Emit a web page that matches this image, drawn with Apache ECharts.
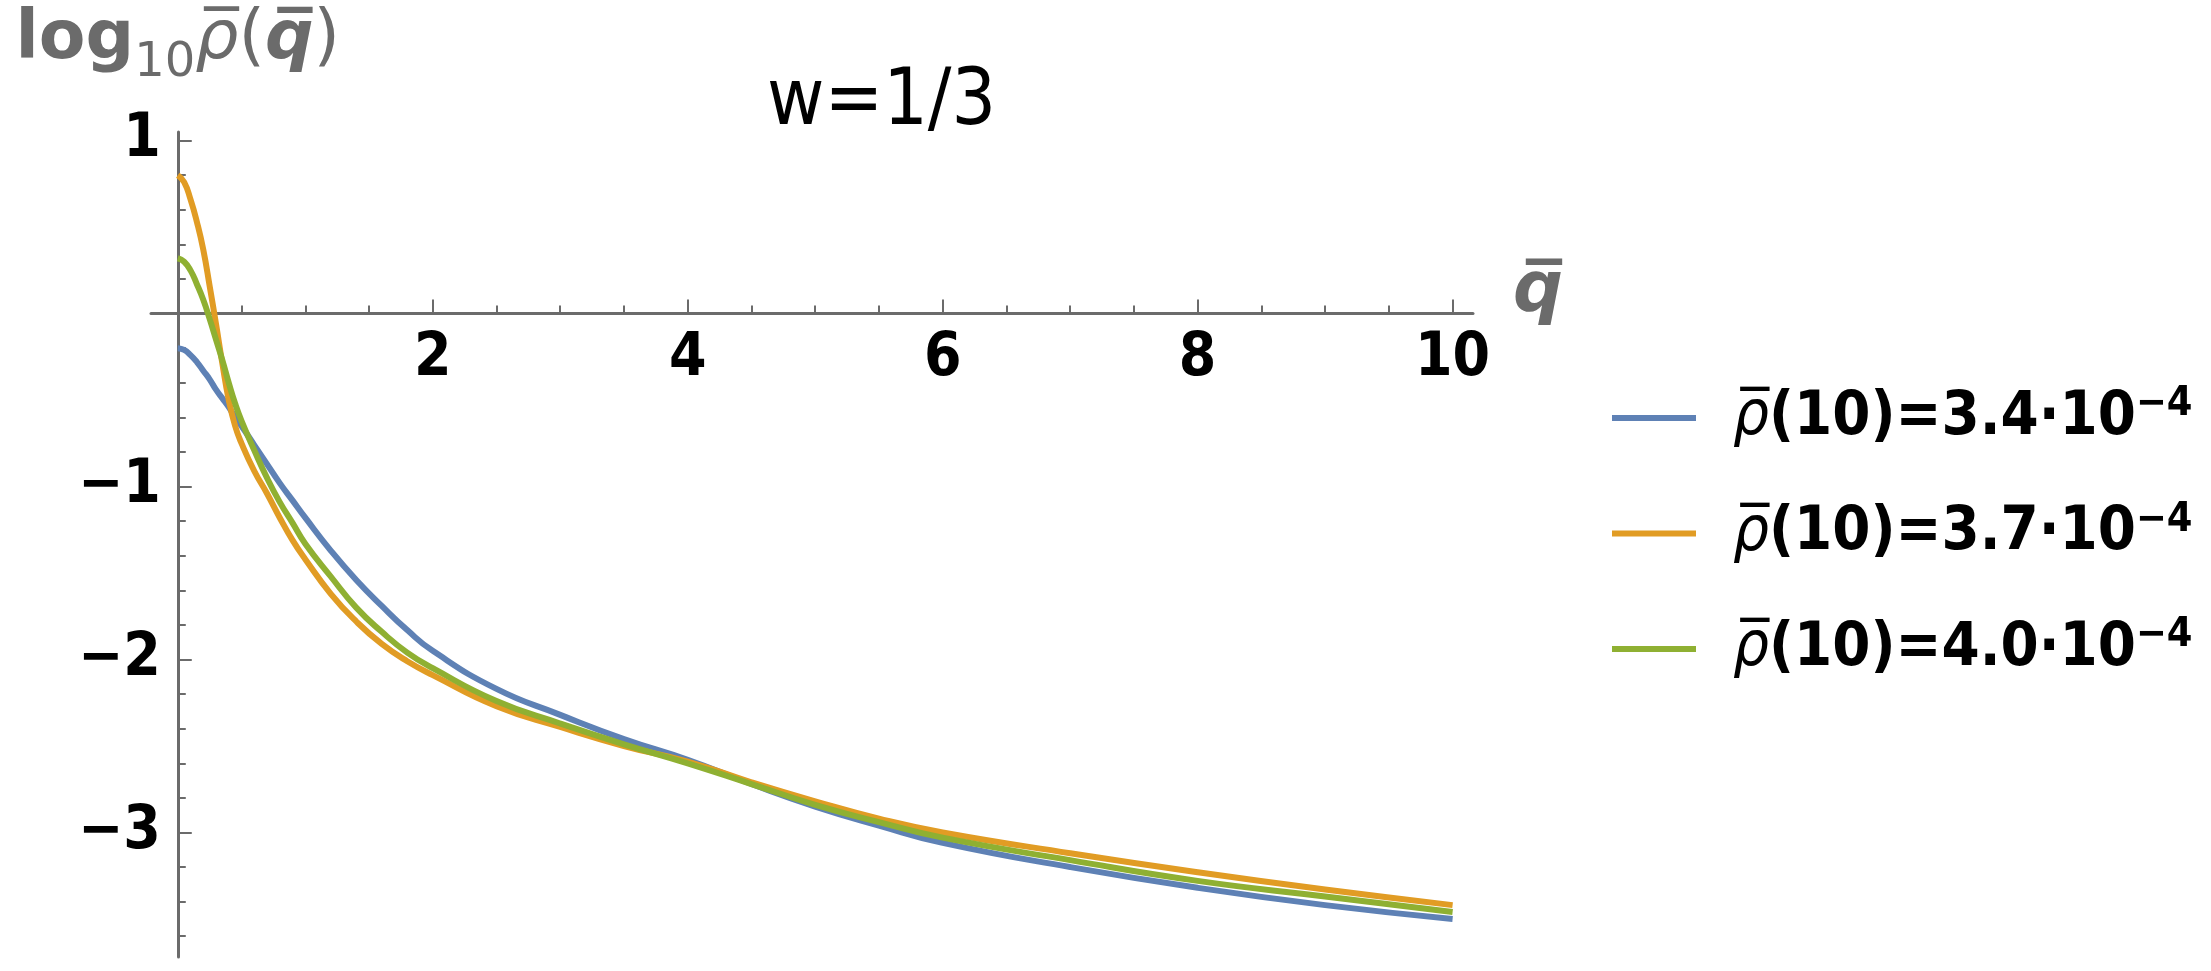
<!DOCTYPE html>
<html>
<head>
<meta charset="utf-8">
<title>w=1/3</title>
<script src="https://cdn.jsdelivr.net/npm/echarts@6/dist/echarts.min.js"></script>
<style>
  html, body { margin: 0; padding: 0; background: #fff; }
  #chart { width: 2211px; height: 971px; }
</style>
</head>
<body>
<div id="chart"></div>
<script>
const qValues = [0, 0.05, 0.1, 0.15, 0.2, 0.25, 0.3, 0.35, 0.4, 0.45, 0.5, 0.6, 0.7, 0.8, 0.9, 1.0,
  1.2, 1.4, 1.6, 1.8, 2.0, 2.5, 3.0, 3.5, 4.0, 4.5, 5.0, 5.5, 6.0, 7.0, 8.0, 9.0, 10.0];

// log10 rho(q) for rho(10) = 3.4e-4
const logRho34 = [-0.20, -0.21, -0.24, -0.28, -0.33, -0.38, -0.44, -0.49, -0.54, -0.60, -0.65, -0.76, -0.87, -0.98, -1.08, -1.18,
  -1.37, -1.54, -1.69, -1.83, -1.95, -2.17, -2.32, -2.46, -2.58, -2.72, -2.85, -2.96, -3.06, -3.20, -3.32, -3.42, -3.50];
// rho(10) = 3.7e-4
const logRho37 = [0.80, 0.76, 0.66, 0.53, 0.37, 0.16, -0.06, -0.29, -0.50, -0.65, -0.75, -0.91, -1.04, -1.18, -1.31, -1.42,
  -1.62, -1.78, -1.91, -2.01, -2.09, -2.27, -2.39, -2.50, -2.59, -2.71, -2.82, -2.92, -3.00, -3.12, -3.23, -3.33, -3.42];
// rho(10) = 4.0e-4
const logRho40 = [0.32, 0.30, 0.25, 0.17, 0.08, -0.03, -0.15, -0.27, -0.40, -0.52, -0.62, -0.79, -0.95, -1.09, -1.21, -1.33,
  -1.52, -1.70, -1.84, -1.96, -2.05, -2.24, -2.37, -2.49, -2.60, -2.72, -2.84, -2.94, -3.03, -3.16, -3.28, -3.37, -3.46];

const rho10Labels = ["3.4", "3.7", "4.0"];
const seriesColors = ["#5e81b5", "#e19c24", "#8fb032"];

// ticks
const xLabelValues = [2, 4, 6, 8, 10];
const xMajorTicks = [0, 2, 4, 6, 8, 10];
const xMinorTicks = [0.5, 1, 1.5, 2.5, 3, 3.5, 4.5, 5, 5.5, 6.5, 7, 7.5, 8.5, 9, 9.5];
const yLabelValues = [1, -1, -2, -3];
const yMajorTicks = [1, -1, -2, -3];
const yMinorTicks = [0.8, 0.6, 0.4, 0.2, -0.2, -0.4, -0.6, -0.8, -1.2, -1.4, -1.6, -1.8,
  -2.2, -2.4, -2.6, -2.8, -3.2, -3.4, -3.6];

const X_MIN = -0.21, X_MAX = 10.16;
const Y_MIN = -3.72, Y_MAX = 1.05;

// grid box
const GRID_LEFT = 151, GRID_TOP = 132, GRID_W = 1322, GRID_H = 825;
// axes cross at the origin: shift them inwards from the grid edges
// (onZero keeps the labels at the grid edge in this version)
const xAxisShift = -GRID_H * (0 - Y_MIN) / (Y_MAX - Y_MIN);
const yAxisShift = -GRID_W * (0 - X_MIN) / (X_MAX - X_MIN);

const axisGray = "#6b6b6b";
const font = "DejaVu Sans Condensed, DejaVu Sans";
const nameFont = "DejaVu Sans";

const toPairs = (ys) => qValues.map((q, i) => [q, ys[i]]);
const seriesNames = rho10Labels.map((v) => "\u03C1\u0305(10)=" + v + "\u00B710\u207B\u2074");
const seriesData = [logRho34, logRho37, logRho40];

const tickLabel = {
  color: "#000",
  fontFamily: font,
  fontSize: 60,
  fontWeight: "bold",
};

const chart = echarts.init(document.getElementById("chart"), null, { renderer: "canvas" });

chart.setOption({
  backgroundColor: "#fff",
  animation: false,
  title: {
    text: "w=1/3",
    left: 762,
    top: 60,
    textStyle: { fontFamily: font, fontSize: 78, fontWeight: "normal", color: "#000" },
  },
  grid: {
    left: GRID_LEFT,
    top: GRID_TOP,
    width: GRID_W,
    height: GRID_H,
    containLabel: false,
    outerBoundsMode: "none",
  },
  legend: {
    orient: "vertical",
    left: 1607,
    top: 379,
    icon: "rect",
    itemWidth: 84,
    itemHeight: 6,
    itemGap: 50,
    data: seriesNames,
    formatter: (name) => {
      const i = seriesNames.indexOf(name);
      return "{r|\u03C1\u0305}{b|(10)=" + rho10Labels[i] + "\u00B710}{e|\u22124}";
    },
    textStyle: {
      padding: [0, 0, 0, 32],
      rich: {
        r: { fontFamily: font, fontSize: 63, fontStyle: "italic", color: "#000", lineHeight: 68 },
        b: { fontFamily: font, fontSize: 61, fontWeight: "bold", color: "#000", lineHeight: 68 },
        e: { fontFamily: font, fontSize: 41, fontWeight: "bold", color: "#000", lineHeight: 42, verticalAlign: "top" },
      },
    },
  },
  xAxis: [
    {
      type: "value",
      min: X_MIN,
      max: X_MAX,
      position: "bottom",
      offset: xAxisShift,
      name: "{q|q\u0305}",
      nameLocation: "end",
      nameGap: 40,
      nameTextStyle: {
        rich: {
          q: { fontFamily: nameFont, fontSize: 70, fontWeight: "bold", fontStyle: "italic", color: axisGray, padding: [0, 0, 42, 0] },
        },
      },
      axisLine: { onZero: false, lineStyle: { color: axisGray, width: 3 } },
      axisTick: { show: true, inside: true, length: 14, customValues: xMajorTicks, lineStyle: { color: axisGray, width: 2 } },
      axisLabel: Object.assign({ customValues: xLabelValues, margin: 16 }, tickLabel),
      splitLine: { show: false },
    },
    {
      // minor ticks only
      type: "value",
      min: X_MIN,
      max: X_MAX,
      position: "bottom",
      offset: xAxisShift,
      axisLine: { show: false, onZero: false },
      axisTick: { show: true, inside: true, length: 8, customValues: xMinorTicks, lineStyle: { color: axisGray, width: 2 } },
      axisLabel: { show: false },
      splitLine: { show: false },
    },
  ],
  yAxis: [
    {
      type: "value",
      min: Y_MIN,
      max: Y_MAX,
      position: "left",
      offset: yAxisShift,
      name: "{l|log}{s|10}{r|\u03C1\u0305}{p|(}{q|q\u0305}{p|)}",
      nameLocation: "end",
      nameGap: 44,
      nameTextStyle: {
        rich: {
          l: { fontFamily: nameFont, fontSize: 68, fontWeight: "bold", color: axisGray, lineHeight: 80, verticalAlign: "bottom", padding: [0, 0, 14, 0] },
          s: { fontFamily: nameFont, fontSize: 48, color: axisGray, lineHeight: 80, verticalAlign: "bottom" },
          r: { fontFamily: nameFont, fontSize: 68, fontStyle: "italic", color: axisGray, lineHeight: 80, verticalAlign: "bottom", padding: [0, 0, 14, 0] },
          p: { fontFamily: nameFont, fontSize: 68, color: axisGray, lineHeight: 80, verticalAlign: "bottom", padding: [0, 0, 14, 0] },
          q: { fontFamily: nameFont, fontSize: 68, fontWeight: "bold", fontStyle: "italic", color: axisGray, lineHeight: 80, verticalAlign: "bottom", padding: [0, 0, 14, 0] },
        },
      },
      axisLine: { onZero: false, lineStyle: { color: axisGray, width: 3 } },
      axisTick: { show: true, inside: true, length: 14, customValues: yMajorTicks, lineStyle: { color: axisGray, width: 2 } },
      axisLabel: Object.assign({
        customValues: yLabelValues,
        margin: 17,
        formatter: (v) => String(v).replace("-", "\u2212"),
      }, tickLabel),
      splitLine: { show: false },
    },
    {
      type: "value",
      min: Y_MIN,
      max: Y_MAX,
      position: "left",
      offset: yAxisShift,
      axisLine: { show: false, onZero: false },
      axisTick: { show: true, inside: true, length: 8, customValues: yMinorTicks, lineStyle: { color: axisGray, width: 2 } },
      axisLabel: { show: false },
      splitLine: { show: false },
    },
  ],
  series: seriesNames.map((name, i) => ({
    name,
    type: "line",
    xAxisIndex: 0,
    yAxisIndex: 0,
    data: toPairs(seriesData[i]),
    symbol: "none",
    smooth: true,
    color: seriesColors[i],
    lineStyle: { width: 6, color: seriesColors[i] },
    z: 2 + i,
  })),
});
</script>
</body>
</html>
